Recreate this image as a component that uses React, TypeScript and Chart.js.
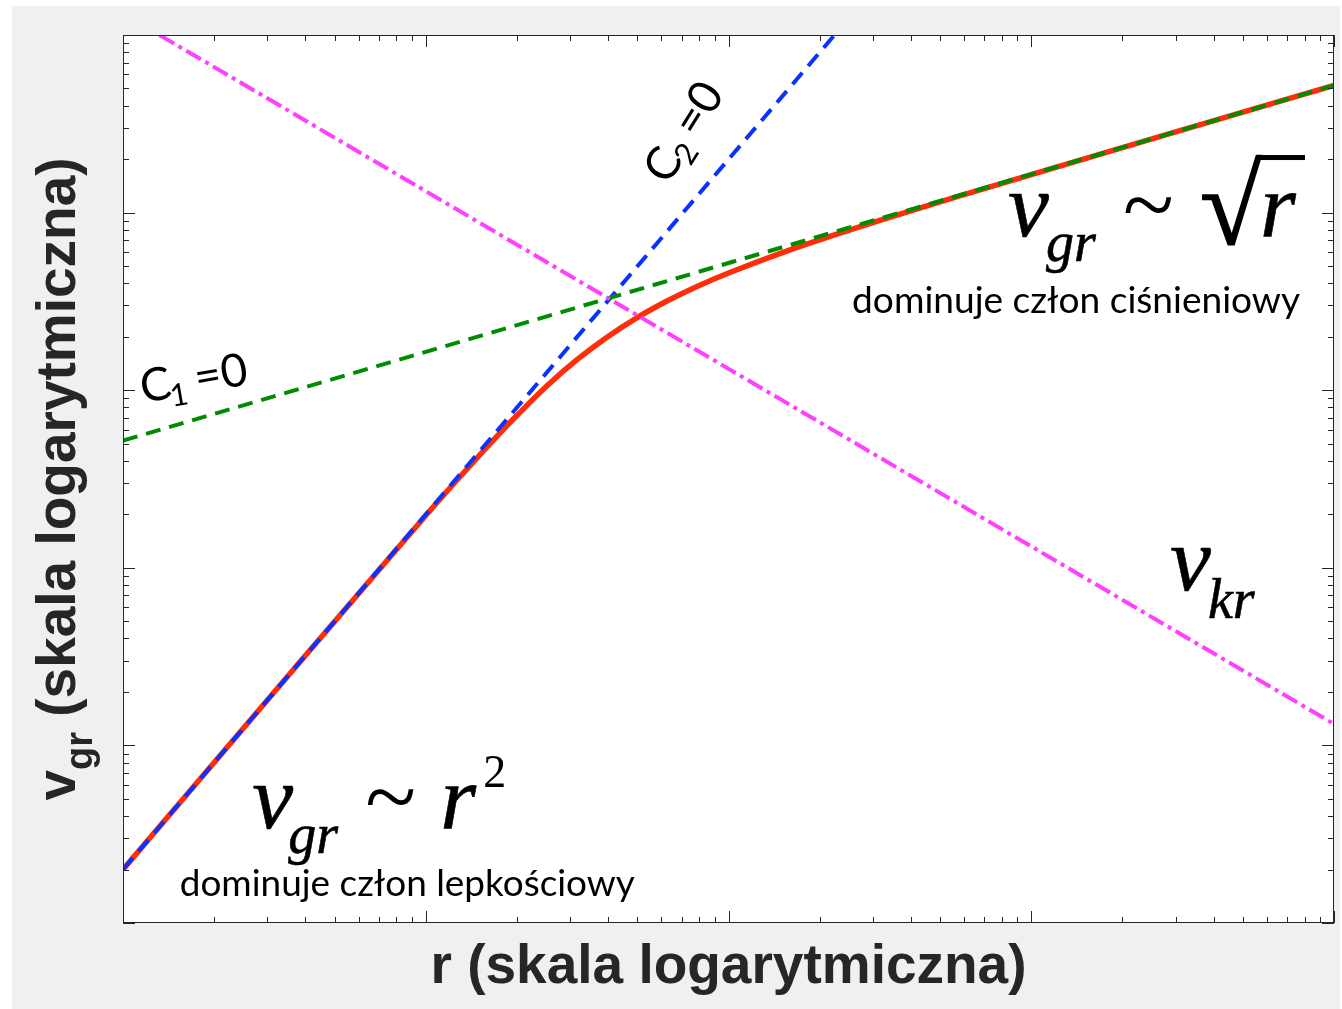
import { useEffect, useRef } from 'react';
import { Chart, registerables } from 'chart.js';

Chart.register(...registerables);

// Full solution v_gr(r): viscous regime at small r, pressure regime at large r
const radiusSamples = [1, 3.16, 10, 12.6, 17.8, 20, 25.1, 31.6, 39.8, 50.1, 63.1, 79.4, 100, 158, 224, 316, 562, 1000, 3162, 10000];
const vgrFull = [2, 20, 197, 308, 587, 720, 1055, 1485, 1995, 2572, 3197, 3862, 4567, 6134, 7482, 9036, 12210, 16370, 29220, 52000];

// Asymptote C2 = 0  (v ~ r^2)
const viscousR = [1, 224];
const viscousV = [2, 100000];

// Asymptote C1 = 0  (v ~ sqrt(r))
const pressureR = [1, 10000];
const pressureV = [520, 52000];

// Critical velocity v_kr (~ 1/r)
const criticalR = [1.32, 10000];
const criticalV = [100000, 13.2];

// Axis decades
const xDecades = [1, 10, 100, 1000, 10000];
const yDecades = [1, 10, 100, 1000, 10000, 100000];
const minorMultipliers = [2, 3, 4, 5, 6, 7, 8, 9];

const AXIS_COLOR = '#262626';
const SERIF = '"Liberation Serif", "Times New Roman", serif';
const SANS_BOLD = '"Liberation Sans", Arial, Helvetica, sans-serif';
const LABEL_SANS = 'Lato, "Noto Sans", sans-serif';

const toPoints = (xs: number[], ys: number[]) => xs.map((x, i) => ({ x, y: ys[i] }));

type Piece = { text: string; dx: number; dy: number; font: string; heavy?: boolean };

function drawPieces(ctx: CanvasRenderingContext2D, x: number, y: number, pieces: Piece[]) {
  for (const p of pieces) {
    ctx.font = p.font;
    ctx.fillText(p.text, x + p.dx, y + p.dy);
    if (p.heavy) {
      ctx.lineWidth = 0.6;
      ctx.strokeStyle = ctx.fillStyle as string;
      ctx.strokeText(p.text, x + p.dx, y + p.dy);
    }
  }
}

function drawFitted(ctx: CanvasRenderingContext2D, text: string, x: number, y: number, width: number, font: string) {
  ctx.font = font;
  const w = ctx.measureText(text).width;
  ctx.save();
  ctx.translate(x, y);
  ctx.scale(width / w, 1);
  ctx.fillText(text, 0, 0);
  ctx.restore();
}

const bigItalic = `italic 92px ${SERIF}`;
const subItalic = `italic 56px ${SERIF}`;
const tildeFont = `94px ${SERIF}`;

const decorPlugin = {
  id: 'decor',
  beforeDraw(chart: any) {
    const { ctx, chartArea: a, width, height } = chart;
    ctx.save();
    ctx.fillStyle = '#ffffff';
    ctx.fillRect(0, 0, width, height);
    ctx.fillStyle = '#f0f0f0';
    ctx.fillRect(12, 6, width - 14, height - 6);
    ctx.fillStyle = '#ffffff';
    ctx.fillRect(a.left, a.top, a.right - a.left, a.bottom - a.top);
    ctx.restore();
  },
  afterDraw(chart: any) {
    const { ctx, chartArea: a } = chart;
    const xs = chart.scales.x;
    const ys = chart.scales.y;
    const X = (v: number) => xs.getPixelForValue(v);
    const Y = (v: number) => ys.getPixelForValue(v);

    ctx.save();
    // box and inward ticks
    ctx.strokeStyle = AXIS_COLOR;
    ctx.lineWidth = 1;
    ctx.strokeRect(a.left + 0.5, a.top + 0.5, a.right - a.left - 1, a.bottom - a.top - 1);
    ctx.beginPath();
    const xTick = (v: number, len: number) => {
      const px = Math.round(X(v)) + 0.5;
      ctx.moveTo(px, a.bottom);
      ctx.lineTo(px, a.bottom - len);
      ctx.moveTo(px, a.top);
      ctx.lineTo(px, a.top + len);
    };
    const yTick = (v: number, len: number) => {
      const py = Math.round(Y(v)) + 0.5;
      ctx.moveTo(a.left, py);
      ctx.lineTo(a.left + len, py);
      ctx.moveTo(a.right, py);
      ctx.lineTo(a.right - len, py);
    };
    xDecades.forEach((d, i) => {
      xTick(d, 12);
      if (i < xDecades.length - 1) minorMultipliers.forEach((m) => xTick(d * m, 6));
    });
    yDecades.forEach((d, i) => {
      yTick(d, 12);
      if (i < yDecades.length - 1) minorMultipliers.forEach((m) => yTick(d * m, 6));
    });
    ctx.stroke();

    // axis titles
    ctx.fillStyle = AXIS_COLOR;
    ctx.textBaseline = 'alphabetic';
    ctx.textAlign = 'center';
    ctx.font = `bold 55px ${SANS_BOLD}`;
    ctx.fillText('r (skala logarytmiczna)', (a.left + a.right) / 2, a.bottom + 60);

    ctx.textAlign = 'left';
    const mainFont = `bold 55px ${SANS_BOLD}`;
    const subFont = `bold 38px ${SANS_BOLD}`;
    ctx.font = mainFont;
    const wV = ctx.measureText('v').width;
    const wRest = ctx.measureText(' (skala logarytmiczna)').width;
    ctx.font = subFont;
    const wSub = ctx.measureText('gr').width;
    const total = wV + wSub + wRest;
    ctx.save();
    ctx.translate(75, (a.top + a.bottom) / 2);
    ctx.rotate(-Math.PI / 2);
    let cx = -total / 2;
    ctx.font = mainFont;
    ctx.fillText('v', cx, 0);
    cx += wV;
    ctx.font = subFont;
    ctx.fillText('gr', cx, 17);
    cx += wSub;
    ctx.font = mainFont;
    ctx.fillText(' (skala logarytmiczna)', cx, 0);
    ctx.restore();

    // annotations
    ctx.fillStyle = '#000000';

    // v_gr ~ sqrt(r)
    {
      const x0 = X(838);
      const y0 = Y(7380);
      drawPieces(ctx, x0, y0, [
        { text: 'v', dx: 0, dy: 0, font: bigItalic, heavy: true },
        { text: 'gr', dx: 38, dy: 25, font: subItalic, heavy: true },
        { text: '~', dx: 115, dy: 0, font: tildeFont },
      ]);
      ctx.font = `112px ${SERIF}`;
      const rad = ctx.measureText('√');
      const rx = x0 + 192;
      const ry = y0 + 8;
      ctx.fillText('√', rx, ry);
      ctx.lineWidth = 1.5;
      ctx.strokeStyle = '#000000';
      ctx.strokeText('√', rx, ry);
      const barLeft = rx + rad.actualBoundingBoxRight - 4;
      const barTop = ry - rad.actualBoundingBoxAscent;
      ctx.fillRect(barLeft, barTop, x0 + 297 - barLeft, 5);
      drawPieces(ctx, x0, y0, [{ text: 'r', dx: 252, dy: 0, font: bigItalic, heavy: true }]);
    }
    drawFitted(ctx, 'dominuje człon ciśnieniowy', X(256), Y(2722), 448, `36px ${LABEL_SANS}`);

    // v_kr
    drawPieces(ctx, X(2872), Y(75), [
      { text: 'v', dx: 0, dy: 0, font: bigItalic, heavy: true },
      { text: 'kr', dx: 38, dy: 28, font: subItalic, heavy: true },
    ]);

    // v_gr ~ r^2
    drawPieces(ctx, X(2.67), Y(3.43), [
      { text: 'v', dx: 0, dy: 0, font: bigItalic, heavy: true },
      { text: 'gr', dx: 36, dy: 25, font: subItalic, heavy: true },
      { text: '~', dx: 113, dy: 0, font: tildeFont },
      { text: 'r', dx: 188, dy: 0, font: bigItalic, heavy: true },
      { text: '2', dx: 231, dy: -41, font: `46px ${SERIF}` },
    ]);
    drawFitted(ctx, 'dominuje człon lepkościowy', X(1.54), Y(1.42), 455, `36px ${LABEL_SANS}`);

    // C1 = 0 and C2 = 0 labels along asymptotes
    const cLabel = (x: number, y: number, angle: number, digit: string) => {
      ctx.save();
      ctx.translate(x, y);
      ctx.rotate(angle);
      drawPieces(ctx, 0, 0, [
        { text: 'C', dx: 0, dy: 0, font: `46px ${LABEL_SANS}` },
        { text: digit, dx: 28, dy: 9, font: `31px ${LABEL_SANS}` },
        { text: '=0', dx: 55, dy: 0, font: `46px ${LABEL_SANS}` },
      ]);
      ctx.restore();
    };
    cLabel(X(1.164), Y(847), (-10 * Math.PI) / 180, '1');
    cLabel(X(63.1), Y(14120), (-58 * Math.PI) / 180, '2');

    ctx.restore();
  },
};

export default function App() {
  const canvasRef = useRef<HTMLCanvasElement>(null);

  useEffect(() => {
    const canvas = canvasRef.current;
    if (!canvas) return;
    const chart = new Chart(canvas, {
      type: 'line',
      data: {
        datasets: [
          {
            label: 'v_kr',
            data: toPoints(criticalR, criticalV),
            borderColor: '#ff40ff',
            borderWidth: 4,
            borderDash: [17, 5, 4, 5],
            pointRadius: 0,
            order: 1,
          },
          {
            label: 'C1 = 0',
            data: toPoints(pressureR, pressureV),
            borderColor: '#008c00',
            borderWidth: 4,
            borderDash: [15, 9],
            pointRadius: 0,
            order: 2,
          },
          {
            label: 'C2 = 0',
            data: toPoints(viscousR, viscousV),
            borderColor: '#0a32ff',
            borderWidth: 4,
            borderDash: [15, 9],
            pointRadius: 0,
            order: 3,
          },
          {
            label: 'v_gr',
            data: toPoints(radiusSamples, vgrFull),
            borderColor: '#ff2d0a',
            borderWidth: 5.5,
            cubicInterpolationMode: 'monotone',
            pointRadius: 0,
            order: 4,
          },
        ],
      },
      options: {
        animation: false,
        responsive: false,
        maintainAspectRatio: false,
        events: [],
        layout: { padding: { left: 123, top: 35, right: 8, bottom: 86 } },
        plugins: { legend: { display: false }, tooltip: { enabled: false } },
        scales: {
          x: { type: 'logarithmic', min: 1, max: 10000, display: false },
          y: { type: 'logarithmic', min: 1, max: 100000, display: false },
        },
      },
      plugins: [decorPlugin],
    } as any);
    return () => chart.destroy();
  }, []);

  return (
    <div style={{ position: 'absolute', left: 0, top: 0, width: 1342, height: 1009 }}>
      <canvas ref={canvasRef} width={1342} height={1009} style={{ display: 'block', width: 1342, height: 1009 }} />
    </div>
  );
}
